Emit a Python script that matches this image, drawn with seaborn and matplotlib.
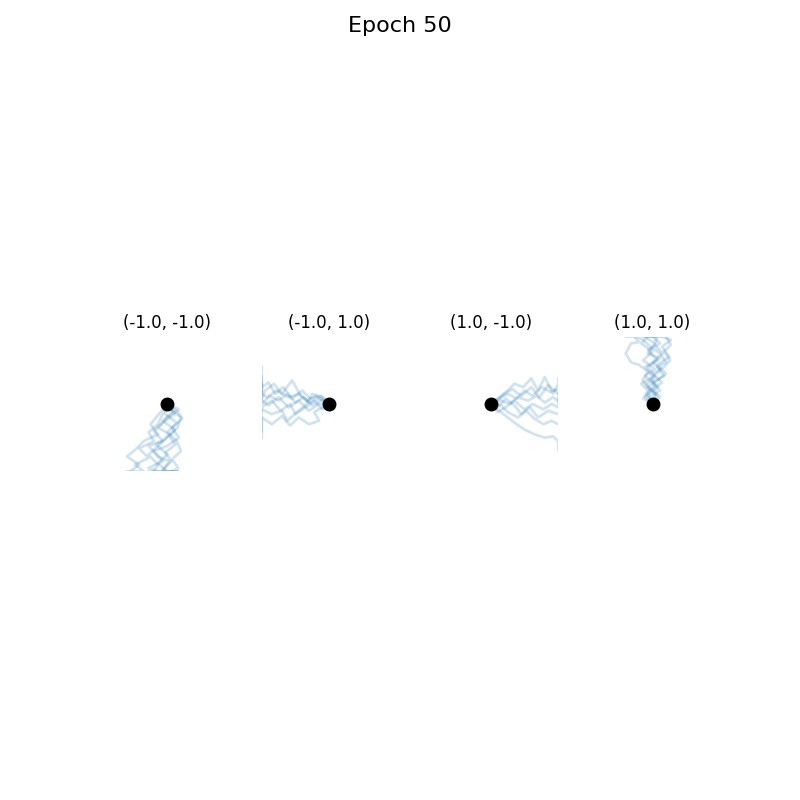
import matplotlib
matplotlib.use("Agg")
import matplotlib.pyplot as plt
import pandas as pd
import seaborn as sns

EPOCH = 50
TARGETS = [(-1.0, -1.0), (-1.0, 1.0), (1.0, -1.0), (1.0, 1.0)]
START = (0.0, 0.0)

# trajectories, one list of (x, y) per rollout
TRAJ_MM = [
    [(0, 0), (0.08, -0.1), (0.2, -0.2), (0.15, -0.35), (0.03, -0.48), (0.12, -0.6), (-0.03, -0.72), (0.06, -0.85), (-0.07, -0.97), (-0.07, -1), (0.15, -1)],
    [(0, 0), (-0.07, -0.15), (-0.14, -0.3), (-0.28, -0.42), (-0.2, -0.55), (-0.42, -0.66), (-0.28, -0.8), (-0.48, -0.9), (-0.35, -1), (-0.55, -1)],
    [(0, 0), (0.14, -0.1), (0.22, -0.22), (0.07, -0.35), (0.17, -0.5), (0.0, -0.62), (-0.2, -0.7), (-0.07, -0.85), (-0.28, -0.95), (-0.14, -1), (0.07, -1)],
    [(0, 0), (-0.1, -0.12), (-0.25, -0.3), (-0.14, -0.45), (-0.35, -0.55), (-0.48, -0.68), (-0.6, -0.78), (-0.42, -0.9), (-0.55, -1), (-0.6, -1)],
    [(0, 0), (0.07, -0.12), (-0.07, -0.25), (0.11, -0.38), (-0.03, -0.52), (-0.17, -0.6), (0.0, -0.75), (-0.14, -0.88), (0.0, -1), (0.15, -1)],
    [(0, 0), (0.17, -0.08), (0.0, -0.2), (-0.14, -0.35), (0.03, -0.45), (-0.11, -0.6), (-0.28, -0.75), (-0.14, -0.9), (-0.2, -1)],
    [(0, 0), (-0.03, -0.15), (0.14, -0.28), (0.0, -0.42), (0.14, -0.55), (0.2, -0.7), (0.07, -0.82), (0.16, -0.95), (0.07, -1)],
    [(0, 0), (0.11, -0.15), (-0.07, -0.28), (-0.2, -0.4), (-0.07, -0.55), (-0.28, -0.62), (-0.14, -0.78), (0.03, -0.85), (-0.07, -1), (-0.28, -1)],
]
TRAJ_MP = [
    [(0, 0), (-0.12, 0.05), (-0.25, -0.02), (-0.38, 0.1), (-0.5, 0.02), (-0.62, 0.15), (-0.75, 0.05), (-0.88, 0.12), (-1, 0.0), (-1, 0.3)],
    [(0, 0), (-0.1, -0.08), (-0.22, 0.05), (-0.35, -0.05), (-0.5, -0.15), (-0.58, 0.0), (-0.72, -0.1), (-0.85, 0.05), (-1, -0.05), (-1, -0.4)],
    [(0, 0), (-0.15, 0.08), (-0.3, 0.02), (-0.42, 0.12), (-0.55, 0.35), (-0.7, 0.15), (-0.82, 0.3), (-0.95, 0.2), (-1, 0.08), (-1, 0.55)],
    [(0, 0), (-0.1, 0.1), (-0.25, 0.15), (-0.35, -0.02), (-0.48, -0.12), (-0.62, -0.25), (-0.7, -0.1), (-0.85, -0.15), (-1, -0.08)],
    [(0, 0), (-0.1, -0.05), (-0.22, -0.12), (-0.15, -0.25), (-0.3, -0.3), (-0.45, -0.2), (-0.58, -0.32), (-0.7, -0.18), (-0.85, -0.3), (-1, -0.2), (-1, -0.5)],
    [(0, 0), (-0.12, 0.12), (-0.28, 0.08), (-0.4, 0.2), (-0.55, 0.08), (-0.68, 0.25), (-0.8, 0.15), (-0.9, 0.32), (-1, 0.25)],
    [(0, 0), (-0.15, 0.0), (-0.3, -0.1), (-0.45, 0.05), (-0.6, -0.05), (-0.75, 0.1), (-0.9, -0.02), (-1, 0.05)],
    [(0, 0), (-0.08, 0.05), (-0.2, 0.12), (-0.32, 0.05), (-0.45, 0.15), (-0.6, 0.1), (-0.78, 0.2), (-0.92, 0.1), (-1, 0.15), (-1, 0.4)],
]
TRAJ_PM = [
    [(0, 0), (0.12, -0.1), (0.25, -0.2), (0.38, -0.3), (0.5, -0.38), (0.65, -0.45), (0.8, -0.5), (0.92, -0.48), (1, -0.55), (1, -0.68)],
    [(0, 0), (0.12, 0.1), (0.25, 0.2), (0.35, 0.3), (0.48, 0.25), (0.6, 0.38), (0.7, 0.2), (0.8, 0.4), (0.92, 0.15), (1, 0.3), (1, 0.38)],
    [(0, 0), (0.15, 0.05), (0.28, 0.0), (0.4, 0.1), (0.55, 0.05), (0.68, 0.12), (0.8, 0.02), (0.92, 0.1), (1, 0.05)],
    [(0, 0), (0.1, -0.05), (0.22, 0.08), (0.35, -0.02), (0.45, -0.15), (0.58, -0.05), (0.7, -0.2), (0.85, -0.1), (1, -0.15)],
    [(0, 0), (0.12, 0.08), (0.25, 0.15), (0.38, 0.08), (0.5, 0.2), (0.62, 0.12), (0.75, 0.25), (0.88, 0.18), (1, 0.22)],
    [(0, 0), (0.1, -0.12), (0.22, -0.05), (0.35, 0.05), (0.5, -0.08), (0.62, 0.0), (0.78, -0.08), (0.9, 0.0), (1, -0.05), (1, 0.15)],
    [(0, 0), (0.15, -0.02), (0.25, -0.12), (0.4, -0.2), (0.52, -0.1), (0.65, -0.22), (0.78, -0.3), (0.9, -0.25), (1, -0.3)],
    [(0, 0), (0.1, 0.05), (0.2, 0.15), (0.32, 0.22), (0.45, 0.12), (0.6, 0.25), (0.72, 0.1), (0.85, 0.28), (1, 0.15)],
]
TRAJ_PP = [
    [(0, 0), (-0.08, 0.12), (0.08, 0.25), (-0.03, 0.38), (0.12, 0.5), (0.0, 0.62), (0.15, 0.75), (0.03, 0.88), (0.07, 1), (-0.14, 1)],
    [(0, 0), (-0.11, 0.1), (-0.03, 0.22), (-0.15, 0.35), (-0.07, 0.48), (-0.2, 0.58), (-0.32, 0.62), (-0.4, 0.75), (-0.32, 0.9), (-0.2, 0.92), (-0.28, 1), (-0.4, 1)],
    [(0, 0), (0.07, 0.12), (-0.07, 0.25), (0.07, 0.35), (0.2, 0.45), (0.07, 0.58), (0.25, 0.7), (0.14, 0.85), (0.27, 0.95), (0.14, 1)],
    [(0, 0), (-0.07, 0.15), (0.03, 0.28), (-0.11, 0.42), (0.03, 0.52), (-0.14, 0.65), (0.0, 0.78), (-0.17, 0.9), (-0.07, 1), (0.12, 1)],
    [(0, 0), (0.11, 0.1), (0.0, 0.22), (0.14, 0.32), (0.0, 0.45), (0.17, 0.55), (0.26, 0.65), (0.17, 0.78), (0.27, 0.88), (0.2, 1)],
    [(0, 0), (-0.14, 0.08), (-0.07, 0.2), (-0.17, 0.3), (0.0, 0.4), (-0.11, 0.55), (0.07, 0.65), (-0.07, 0.8), (0.11, 0.9), (0.0, 1)],
    [(0, 0), (0.04, 0.15), (-0.1, 0.28), (0.04, 0.4), (-0.07, 0.55), (0.11, 0.68), (-0.07, 0.75), (0.03, 0.9), (-0.11, 1)],
    [(0, 0), (-0.04, 0.1), (0.11, 0.2), (0.0, 0.32), (0.17, 0.42), (0.07, 0.55), (0.2, 0.62), (0.11, 0.75), (-0.03, 0.85), (-0.14, 0.95), (-0.25, 1)],
]
TRAJECTORIES = [TRAJ_MM, TRAJ_MP, TRAJ_PM, TRAJ_PP]


def to_frame(trajs):
    rows = []
    for k, traj in enumerate(trajs):
        for step, (x, y) in enumerate(traj):
            rows.append({"traj": k, "step": step, "x": x, "y": y})
    return pd.DataFrame(rows)


fig, axes = plt.subplots(1, 4, figsize=(8, 8), dpi=100)

for ax, target, trajs in zip(axes, TARGETS, TRAJECTORIES):
    df = to_frame(trajs)
    sns.lineplot(
        data=df, x="x", y="y", units="traj", estimator=None, sort=False,
        color="#1f77b4", alpha=0.2, linewidth=2, ax=ax, legend=False,
    )
    ax.plot(*START, "o", color="black", markersize=9, zorder=5)
    ax.set_xlim(-1, 1)
    ax.set_ylim(-1, 1)
    ax.set_aspect("equal")
    ax.set_title(f"({target[0]:.1f}, {target[1]:.1f})")
    ax.axis("off")

fig.suptitle(f"Epoch {EPOCH}", fontsize=16)
fig.savefig("out.png", dpi=100)
